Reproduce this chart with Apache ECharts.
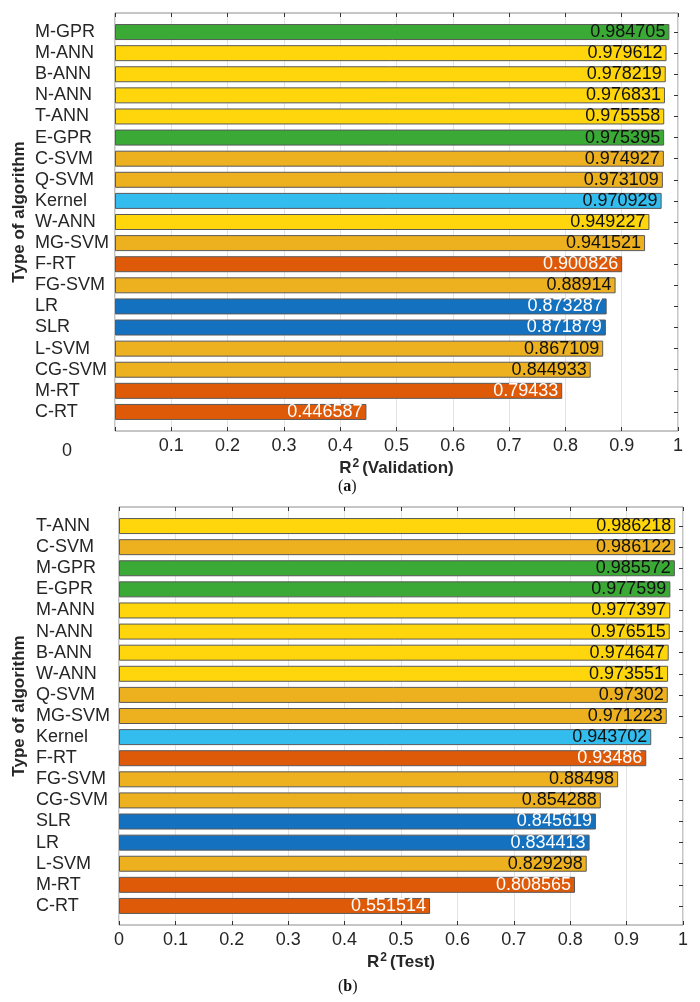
<!DOCTYPE html>
<html>
<head>
<meta charset="utf-8">
<script src="https://cdn.jsdelivr.net/npm/echarts@6/dist/echarts.min.js"></script>
<style>
  html, body { margin: 0; padding: 0; background: #fff; }
  #main { width: 700px; height: 1002px; }
</style>
</head>
<body>
<div id="main"></div>
<script>
// (a) validation, top to bottom
const valNames = ['M-GPR', 'M-ANN', 'B-ANN', 'N-ANN', 'T-ANN', 'E-GPR', 'C-SVM', 'Q-SVM', 'Kernel', 'W-ANN',
  'MG-SVM', 'F-RT', 'FG-SVM', 'LR', 'SLR', 'L-SVM', 'CG-SVM', 'M-RT', 'C-RT'];
const valScores = [0.984705, 0.979612, 0.978219, 0.976831, 0.975558, 0.975395, 0.974927, 0.973109, 0.970929, 0.949227,
  0.941521, 0.900826, 0.88914, 0.873287, 0.871879, 0.867109, 0.844933, 0.79433, 0.446587];

// (b) test, top to bottom
const testNames = ['T-ANN', 'C-SVM', 'M-GPR', 'E-GPR', 'M-ANN', 'N-ANN', 'B-ANN', 'W-ANN', 'Q-SVM', 'MG-SVM',
  'Kernel', 'F-RT', 'FG-SVM', 'CG-SVM', 'SLR', 'LR', 'L-SVM', 'M-RT', 'C-RT'];
const testScores = [0.986218, 0.986122, 0.985572, 0.977599, 0.977397, 0.976515, 0.974647, 0.973551, 0.97302, 0.971223,
  0.943702, 0.93486, 0.88498, 0.854288, 0.845619, 0.834413, 0.829298, 0.808565, 0.551514];

const xTicks = [0, 0.1, 0.2, 0.3, 0.4, 0.5, 0.6, 0.7, 0.8, 0.9, 1];

// colour per algorithm family
const family = {
  GPR: { color: '#3aa935', text: '#111' },
  ANN: { color: '#ffd60c', text: '#111' },
  SVM: { color: '#edb120', text: '#111' },
  Kernel: { color: '#33bdee', text: '#111' },
  LR: { color: '#1371bf', text: '#fff' },
  RT: { color: '#df5a08', text: '#fff' }
};

function familyOf(name) {
  if (name === 'Kernel') return family.Kernel;
  if (name === 'LR' || name === 'SLR') return family.LR;
  return family[name.split('-')[1]];
}

function barData(names, scores) {
  return scores.map((v, i) => {
    const f = familyOf(names[i]);
    return {
      value: v,
      itemStyle: { color: f.color },
      label: { color: f.text }
    };
  });
}

const font = 'Liberation Sans, Arial, sans-serif';
const chart = echarts.init(document.getElementById('main'));

// frame grids hold the box, ticks and x labels; bar grids hold the bars
const panels = [
  { left: 115, top: 13, width: 563, names: valNames, scores: valScores, title: 'Validation', hideZero: true, labelMargin: 80 },
  { left: 119, top: 507, width: 564, names: testNames, scores: testScores, title: 'Test', hideZero: false, labelMargin: 83 }
];
const boxH = 418;
const pad = 8.5;

const grid = [], xAxis = [], yAxis = [], series = [];
panels.forEach((p, k) => {
  const fg = grid.length;
  grid.push({ left: p.left, top: p.top, width: p.width, height: boxH, show: true, borderColor: '#8c8c8c', borderWidth: 1,
    outerBoundsMode: 'none', containLabel: false });
  grid.push({ left: p.left, top: p.top + pad, width: p.width, height: boxH - 2 * pad,
    outerBoundsMode: 'none', containLabel: false });
  const bg = fg + 1;

  // bottom x axis with labels and title
  xAxis.push({
    gridIndex: fg, type: 'value', min: 0, max: 1, interval: 0.1, position: 'bottom',
    axisLine: { show: false },
    axisTick: { show: true, inside: true, length: 4, lineStyle: { color: '#333' } },
    splitLine: { show: true, lineStyle: { color: '#e3e3e3' } },
    axisLabel: {
      fontSize: 18, fontFamily: font, color: '#262626', margin: 6,
      formatter: v => (p.hideZero && v === 0) ? '' : String(Math.round(v * 10) / 10)
    },
    name: '{b|R}{s|2}{b|(' + p.title + ')}',
    nameLocation: 'middle', nameGap: 27,
    nameTextStyle: {
      rich: {
        b: { fontSize: 17, fontWeight: 'bold', fontFamily: font, color: '#262626' },
        s: { fontSize: 12, fontWeight: 'bold', fontFamily: font, color: '#262626', verticalAlign: 'top', padding: [0, 3, 8, 1] }
      }
    }
  });
  // top x axis: ticks only
  xAxis.push({
    gridIndex: fg, type: 'value', min: 0, max: 1, interval: 0.1, position: 'top',
    axisLine: { show: false },
    axisTick: { show: true, inside: true, length: 4, lineStyle: { color: '#333' } },
    splitLine: { show: false }, axisLabel: { show: false }
  });
  // bar grid x axis (hidden, same scale)
  xAxis.push({
    gridIndex: bg, type: 'value', min: 0, max: 1, show: false
  });

  yAxis.push({
    gridIndex: fg, type: 'value', min: 0, max: 1,
    axisLine: { show: false }, axisTick: { show: false }, axisLabel: { show: false }, splitLine: { show: false },
    name: 'Type of algorithm', nameLocation: 'middle', nameRotate: 90, nameGap: p.left - 28,
    nameTextStyle: { fontSize: 17, fontWeight: 'bold', fontFamily: font, color: '#262626', padding: [0, 0, 0, 20] }
  });
  yAxis.push({
    gridIndex: bg, type: 'category', data: p.names, inverse: true, position: 'left',
    axisLine: { show: false },
    axisTick: { show: true, inside: true, length: 4, alignWithLabel: true, lineStyle: { color: '#333' } },
    axisLabel: { interval: 0, fontSize: 18, fontFamily: font, color: '#262626', align: 'left', margin: p.labelMargin }
  });
  yAxis.push({
    gridIndex: bg, type: 'category', data: p.names, inverse: true, position: 'right',
    axisLine: { show: false },
    axisTick: { show: true, inside: true, length: 4, interval: 0, alignWithLabel: true, lineStyle: { color: '#333' } },
    axisLabel: { show: false, interval: 0 }
  });

  series.push({
    type: 'bar',
    xAxisIndex: k * 3 + 2,
    yAxisIndex: k * 3 + 1,
    barWidth: 16,
    data: barData(p.names, p.scores),
    itemStyle: { borderColor: '#5a5a5a', borderWidth: 1 },
    label: {
      show: true, position: 'insideRight', distance: 4,
      fontSize: 18, fontFamily: font,
      formatter: d => String(d.value)
    },
    silent: true
  });
});

chart.setOption({
  backgroundColor: '#fff',
  animation: false,
  grid, xAxis, yAxis, series,
  graphic: [
    // stray zero tick label of panel (a)
    { type: 'text', left: 62, top: 442, style: { text: String(xTicks[0]), fontSize: 18, fontFamily: font, fill: '#262626' } },
    { type: 'text', left: 338, top: 479, style: { text: '({b|a})', fontSize: 16, fontFamily: 'Liberation Serif, serif', fill: '#111',
      rich: { b: { fontSize: 16, fontWeight: 'bold', fontFamily: 'Liberation Serif, serif', fill: '#111' } } } },
    { type: 'text', left: 338, top: 979, style: { text: '({b|b})', fontSize: 16, fontFamily: 'Liberation Serif, serif', fill: '#111',
      rich: { b: { fontSize: 16, fontWeight: 'bold', fontFamily: 'Liberation Serif, serif', fill: '#111' } } } }
  ]
});
</script>
</body>
</html>
